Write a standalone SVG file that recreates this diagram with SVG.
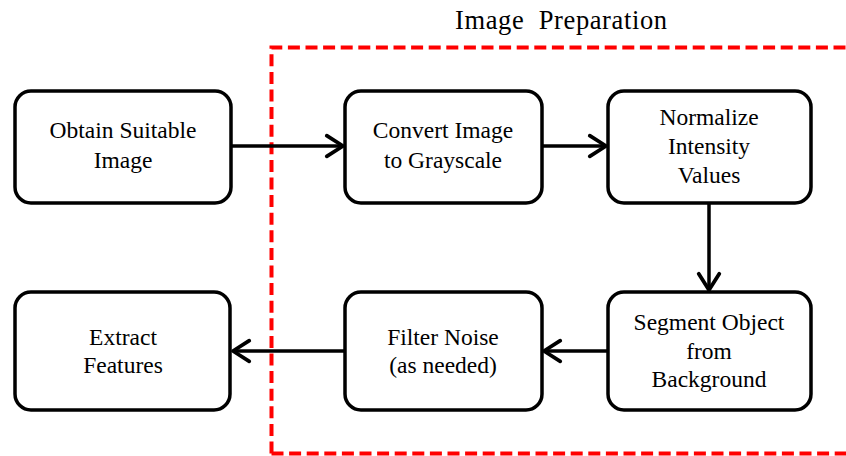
<svg xmlns="http://www.w3.org/2000/svg" width="846" height="456" viewBox="0 0 846 456">
<style>
.box{fill:#fff;stroke:#000;stroke-width:3.5}
.t{font-family:'Liberation Serif','Times New Roman','DejaVu Serif',serif;font-size:23.5px;fill:#000;text-anchor:middle}
.title{font-family:'Liberation Serif','Times New Roman','DejaVu Serif',serif;font-size:26.5px;fill:#000}
.c{stroke:#000;stroke-width:3.5;fill:none}
.grp{fill:none;stroke:#ff0000;stroke-width:4;stroke-dasharray:12 5.6}
</style>
<defs>
<marker id="ah" markerUnits="userSpaceOnUse" markerWidth="24" markerHeight="26" viewBox="-18 -12 22 24" refX="0" refY="0" orient="auto">
<path d="M-15,-9.5 L0,0 L-15,9.5" fill="none" stroke="#000" stroke-width="3.5" stroke-linecap="round" stroke-linejoin="round"/>
</marker>
</defs>
<rect width="846" height="456" fill="#fff"/>
<g id="group-image-preparation">
<path class="grp" d="M271.5,453.5 L271.5,47.5 L860,47.5 M271.5,453.5 L860,453.5"/>
<text class="title" x="455" y="29" textLength="212" lengthAdjust="spacing" xml:space="preserve">Image  Preparation</text>
</g>
<g id="connectors">
<line class="c" x1="231" y1="146" x2="343" y2="146" marker-end="url(#ah)"/>
<line class="c" x1="542" y1="146" x2="606" y2="146" marker-end="url(#ah)"/>
<line class="c" x1="709" y1="203" x2="709" y2="290" marker-end="url(#ah)"/>
<line class="c" x1="608" y1="351" x2="544" y2="351" marker-end="url(#ah)"/>
<line class="c" x1="345" y1="351" x2="233" y2="351" marker-end="url(#ah)"/>
</g>
<g id="obtain">
<rect class="box" x="15" y="91" width="216" height="112" rx="16"/>
<text class="t" x="123" y="138">Obtain Suitable</text>
<text class="t" x="123" y="168">Image</text>
</g>
<g id="convert">
<rect class="box" x="345" y="91" width="197" height="112" rx="16"/>
<text class="t" x="443" y="138">Convert Image</text>
<text class="t" x="443" y="168">to Grayscale</text>
</g>
<g id="normalize">
<rect class="box" x="608" y="91" width="203" height="112" rx="16"/>
<text class="t" x="709" y="125">Normalize</text>
<text class="t" x="709" y="154">Intensity</text>
<text class="t" x="709" y="183">Values</text>
</g>
<g id="extract">
<rect class="box" x="15" y="292" width="215" height="118" rx="16"/>
<text class="t" x="123" y="345">Extract</text>
<text class="t" x="123" y="373">Features</text>
</g>
<g id="filter">
<rect class="box" x="345" y="292" width="197" height="118" rx="16"/>
<text class="t" x="443" y="345">Filter Noise</text>
<text class="t" x="443" y="373">(as needed)</text>
</g>
<g id="segment">
<rect class="box" x="608" y="292" width="203" height="118" rx="16"/>
<text class="t" x="709" y="330">Segment Object</text>
<text class="t" x="709" y="359">from</text>
<text class="t" x="709" y="387">Background</text>
</g>
</svg>
